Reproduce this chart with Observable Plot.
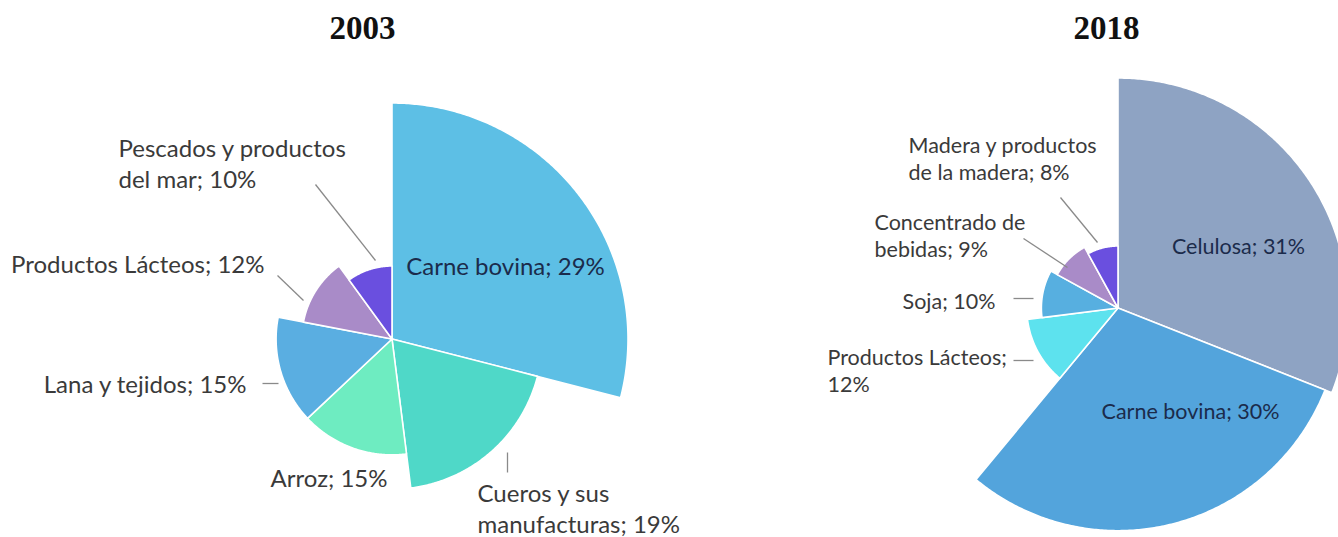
<!DOCTYPE html>
<html>
<head>
<meta charset="utf-8">
<script src="https://cdn.jsdelivr.net/npm/d3@7"></script>
<script src="https://cdn.jsdelivr.net/npm/@observablehq/plot@0.6"></script>
<style>
  body { margin: 0; background: #ffffff; }
  #chart svg { display: block; }
</style>
</head>
<body>
<div id="chart"></div>
<script>
// ---------- DATA ----------
const years = ["2003", "2018"];

const categories2003 = ["Carne bovina", "Cueros y sus manufacturas", "Arroz", "Lana y tejidos", "Productos Lácteos", "Pescados y productos del mar"];
const values2003 = [29, 19, 15, 15, 12, 10];

const categories2018 = ["Celulosa", "Carne bovina", "Productos Lácteos", "Soja", "Concentrado de bebidas", "Madera y productos de la madera"];
const values2018 = [31, 30, 12, 10, 9, 8];

// ---------- STYLE ----------
const colors2003 = ["#5dbfe5", "#4fd8c8", "#6eecc1", "#5aaee1", "#a98bc8", "#6a4fdf"];
const colors2018 = ["#8ea3c3", "#53a4dc", "#5de2ee", "#57afe0", "#a98bc8", "#6a4fdf"];

// ---------- LAYOUT (pixel positions of pies, labels, leaders) ----------
const layout = {
  "2003": {
    center: [391.5, 338.5], radius: [[10, 29], [73, 236]],
    title: [362, 28], fontSize: 24, lineHeight: 1.3,
    labels: [
      {anchor: "middle", x: 505, y: 265, inside: true, brk: 0},
      {anchor: "start", x: 477, y: 507, brk: 3, leader: [507, 452, 507, 472]},
      {anchor: "end", x: 387, y: 477, brk: 0},
      {anchor: "end", x: 246, y: 383, brk: 0, leader: [262, 383, 278, 383]},
      {anchor: "end", x: 264, y: 263, brk: 0, leader: [277, 275, 303, 300]},
      {anchor: "start", x: 118, y: 162, brk: 3, leader: [315, 184, 375, 260]}
    ]
  },
  "2018": {
    center: [1117.5, 307.5], radius: [[8, 31], [62, 230]],
    title: [1106, 28], fontSize: 21.5, lineHeight: 1.27,
    labels: [
      {anchor: "middle", x: 1238, y: 245, inside: true, brk: 0},
      {anchor: "middle", x: 1190, y: 410, inside: true, brk: 0},
      {anchor: "start", x: 827, y: 369, brk: 2, leader: [1013, 360, 1033, 360]},
      {anchor: "end", x: 995, y: 300, brk: 0, leader: [1013, 298, 1033, 298]},
      {anchor: "start", x: 874, y: 234, brk: 2, leader: [1023, 238, 1067, 267]},
      {anchor: "start", x: 908, y: 157, brk: 3, leader: [1060, 197, 1097, 242]}
    ]
  }
};

const panels = {
  "2003": {categories: categories2003, values: values2003, colors: colors2003},
  "2018": {categories: categories2018, values: values2018, colors: colors2018}
};

// ---------- BUILD GEOMETRY FROM DATA ----------
const slicePoints = [];
const labelRows = [];
const leaderRows = [];
const titleRows = [];

for (const year of years) {
  const {categories, values, colors} = panels[year];
  const L = layout[year];
  const [cx, cy] = L.center;
  const rScale = d3.scaleLinear(L.radius[0], L.radius[1]);
  const total = d3.sum(values);
  let acc = 0;
  categories.forEach((cat, i) => {
    const v = values[i];
    const a0 = acc / total * 2 * Math.PI;
    const a1 = (acc + v) / total * 2 * Math.PI;
    acc += v;
    const r = rScale(v);
    const key = year + "|" + cat;
    slicePoints.push({key, x: cx, y: cy, color: colors[i]});
    const n = Math.max(8, Math.ceil((a1 - a0) / (Math.PI / 360)));
    for (let k = 0; k <= n; k++) {
      const a = a0 + (a1 - a0) * k / n;
      slicePoints.push({key, x: cx + r * Math.sin(a), y: cy - r * Math.cos(a), color: colors[i]});
    }
    slicePoints.push({key, x: cx, y: cy, color: colors[i]});

    const lab = L.labels[i];
    const full = `${cat}; ${v}%`;
    let text = full;
    if (lab.brk > 0) {
      const words = full.split(" ");
      text = words.slice(0, lab.brk).join(" ") + "\n" + words.slice(lab.brk).join(" ");
    }
    labelRows.push({year, x: lab.x, y: lab.y, text, anchor: lab.anchor, inside: !!lab.inside});
    if (lab.leader) {
      const [x1, y1, x2, y2] = lab.leader;
      leaderRows.push({x1, y1, x2, y2});
    }
  });
  titleRows.push({x: L.title[0], y: L.title[1], text: year});
}

// ---------- TEXT MARKS ----------
const textMarks = [];
for (const year of years) {
  for (const anchor of ["start", "middle", "end"]) {
    const rows = labelRows.filter(d => d.year === year && d.anchor === anchor);
    if (!rows.length) continue;
    textMarks.push(Plot.text(rows, {
      x: "x", y: "y", text: "text",
      textAnchor: anchor, lineAnchor: "middle",
      lineHeight: layout[year].lineHeight,
      fontSize: layout[year].fontSize,
      fontFamily: "Lato, 'Open Sans', sans-serif",
      fill: d => d.inside ? "#1b2b4b" : "#3a3a3a"
    }));
  }
}

const chart = Plot.plot({
  width: 1338,
  height: 537,
  margin: 0,
  x: {domain: [0, 1338], range: [0, 1338], axis: null},
  y: {domain: [0, 537], range: [0, 537], axis: null},
  color: {type: "identity"},
  style: {background: "#ffffff"},
  marks: [
    Plot.line(slicePoints, {
      x: "x", y: "y", z: "key", fill: "color",
      stroke: "#ffffff", strokeWidth: 1.6, strokeLinejoin: "round", curve: "linear"
    }),
    Plot.link(leaderRows, {x1: "x1", y1: "y1", x2: "x2", y2: "y2", stroke: "#8a8a8a", strokeWidth: 1.3}),
    ...textMarks,
    Plot.text(titleRows, {
      x: "x", y: "y", text: "text",
      fontFamily: "'Liberation Serif', 'DejaVu Serif', serif",
      fontWeight: "bold", fontSize: 33, fill: "#111111"
    })
  ]
});

document.getElementById("chart").appendChild(chart);
</script>
</body>
</html>
